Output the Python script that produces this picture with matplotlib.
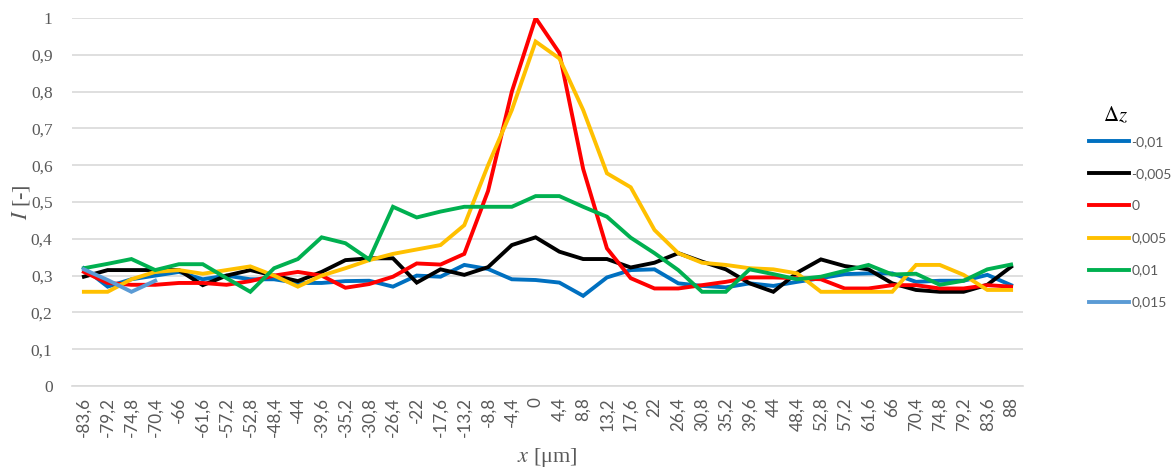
import numpy as np
import matplotlib
matplotlib.use("Agg")
import matplotlib.pyplot as plt

x_labels = ["-83,6", "-79,2", "-74,8", "-70,4", "-66", "-61,6", "-57,2", "-52,8", "-48,4", "-44",
            "-39,6", "-35,2", "-30,8", "-26,4", "-22", "-17,6", "-13,2", "-8,8", "-4,4", "0",
            "4,4", "8,8", "13,2", "17,6", "22", "26,4", "30,8", "35,2", "39,6", "44",
            "48,4", "52,8", "57,2", "61,6", "66", "70,4", "74,8", "79,2", "83,6", "88"]

s_m010 = [0.32, 0.27, 0.29, 0.30, 0.31, 0.29, 0.30, 0.29, 0.29, 0.28,
          0.28, 0.285, 0.286, 0.27, 0.30, 0.297, 0.329, 0.318, 0.29, 0.288,
          0.281, 0.245, 0.295, 0.315, 0.317, 0.279, 0.272, 0.268, 0.279, 0.272,
          0.283, 0.293, 0.304, 0.306, 0.306, 0.283, 0.286, 0.286, 0.302, 0.274]
s_m005 = [0.297, 0.315, 0.315, 0.315, 0.315, 0.274, 0.30, 0.315, 0.30, 0.285,
          0.31, 0.342, 0.347, 0.347, 0.281, 0.317, 0.302, 0.323, 0.383, 0.404,
          0.365, 0.345, 0.345, 0.322, 0.335, 0.361, 0.338, 0.317, 0.279, 0.256,
          0.308, 0.344, 0.326, 0.317, 0.279, 0.261, 0.256, 0.256, 0.275, 0.324]
s_0 = [0.31, 0.28, 0.275, 0.275, 0.28, 0.28, 0.275, 0.285, 0.30, 0.31,
       0.30, 0.267, 0.277, 0.297, 0.333, 0.33, 0.359, 0.53, 0.80, 1.0,
       0.905, 0.59, 0.374, 0.293, 0.265, 0.265, 0.274, 0.283, 0.295, 0.295,
       0.293, 0.29, 0.265, 0.265, 0.274, 0.274, 0.265, 0.265, 0.274, 0.27]
s_p005 = [0.256, 0.256, 0.29, 0.31, 0.315, 0.305, 0.315, 0.325, 0.30, 0.27,
          0.30, 0.32, 0.342, 0.359, 0.371, 0.383, 0.437, 0.60, 0.75, 0.936,
          0.89, 0.75, 0.578, 0.54, 0.424, 0.361, 0.335, 0.329, 0.32, 0.317,
          0.306, 0.256, 0.256, 0.256, 0.256, 0.329, 0.329, 0.302, 0.261, 0.261]
s_p010 = [0.32, 0.332, 0.345, 0.315, 0.331, 0.331, 0.293, 0.256, 0.32, 0.345,
          0.404, 0.388, 0.344, 0.487, 0.458, 0.474, 0.487, 0.487, 0.487, 0.516,
          0.516, 0.487, 0.46, 0.403, 0.361, 0.315, 0.256, 0.256, 0.317, 0.304,
          0.29, 0.297, 0.313, 0.329, 0.303, 0.305, 0.275, 0.286, 0.317, 0.33]
s_p015 = [0.317, 0.288, 0.256, 0.286] + [np.nan] * 36

series_names = ["-0,01", "-0,005", "0", "0,005", "0,01", "0,015"]
series_colors = ["#0070C0", "#000000", "#FF0000", "#FFC000", "#00B050", "#5B9BD5"]
series_values = [s_m010, s_m005, s_0, s_p005, s_p010, s_p015]

y_ticks = [0, 0.1, 0.2, 0.3, 0.4, 0.5, 0.6, 0.7, 0.8, 0.9, 1.0]
y_ticklabels = ["0", "0,1", "0,2", "0,3", "0,4", "0,5", "0,6", "0,7", "0,8", "0,9", "1"]

plt.rcParams['mathtext.fontset'] = 'stix'
W, H = 1172, 470
fig = plt.figure(figsize=(W / 100, H / 100), dpi=100)
ax = fig.add_axes([72 / W, (H - 386) / H, (1023 - 72) / W, (386 - 18) / H])

xi = np.arange(len(x_labels))
for name, col, vals in zip(series_names, series_colors, series_values):
    ax.plot(xi, vals, color=col, lw=2.8, label=name, solid_joinstyle='miter', zorder=3)

ax.set_xlim(-0.5, len(x_labels) - 0.5)
ax.set_ylim(0, 1)
ax.set_yticks(y_ticks)
ax.set_yticklabels(y_ticklabels, fontfamily="Liberation Serif", fontsize=12.5, color="#595959")
ax.set_xticks(xi)
ax.set_xticklabels(x_labels, rotation=90, fontfamily="Lato", fontsize=12.3, color="#595959")
ax.tick_params(axis='both', length=0)
ax.tick_params(axis='y', pad=14)
ax.tick_params(axis='x', pad=8)
ax.grid(axis='y', color="#D9D9D9", lw=1.2, zorder=0)
for s in ['top', 'right', 'left']:
    ax.spines[s].set_visible(False)
ax.spines['bottom'].set_color("#D9D9D9")
ax.spines['bottom'].set_linewidth(1.2)

ax.set_xlabel(r"$x$ [μm]", fontfamily="Liberation Serif", fontsize=16, color="#595959", labelpad=6)
ax.set_ylabel(r"$I$ [-]", fontfamily="Liberation Serif", fontsize=16, color="#595959", labelpad=-1)

leg = fig.legend(loc='upper left', bbox_to_anchor=(1082 / W, 1 - 129 / H), frameon=False,
                 handlelength=2.9, handletextpad=0.15,
                 labelspacing=1.45, borderpad=0, prop={'family': 'Lato', 'size': 10})
for t in leg.get_texts():
    t.set_color("#595959")
fig.text(1116 / W, 1 - 115 / H, r"$\Delta z$", fontsize=15, color="black", ha='center', va='center')

fig.savefig("out.png", dpi=100)
